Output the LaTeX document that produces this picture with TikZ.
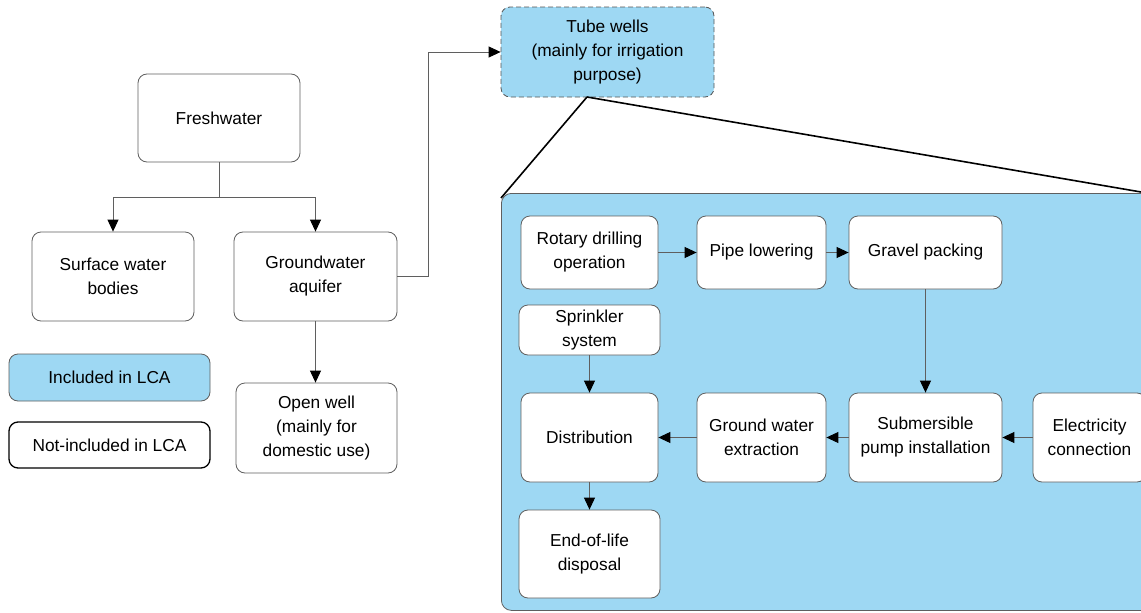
\documentclass[tikz,border=0pt]{standalone}
\usepackage{fontspec}
\setmainfont{Liberation Sans}
\usetikzlibrary{arrows.meta}
\definecolor{lblue}{RGB}{158,216,243}
\definecolor{edgegray}{RGB}{95,95,95}
\begin{document}
\begin{tikzpicture}[x=1pt,y=-1pt,
  box/.style={draw=edgegray, line width=0.8pt, rounded corners=9pt, fill=white,
    align=center, inner sep=0pt, font=\fontsize{17.3}{24}\selectfont},
  bluebox/.style={box, fill=lblue},
  conn/.style={draw=edgegray, line width=0.9pt, -{Triangle[color=black,length=12pt,width=11pt]}},
  plain/.style={draw=edgegray, line width=0.9pt},
  zoomline/.style={draw=black, line width=1.6pt}]
\clip (0,0) rectangle (1141,613);
\fill[white] (0,0) rectangle (1141,613);

% left part
\node[box, minimum width=162, minimum height=88] (fresh) at (219,118) {Freshwater};
\node[box, minimum width=162, minimum height=89] (surf) at (113,276.5) {Surface water\\bodies};
\node[box, minimum width=163, minimum height=89] (gw) at (315.5,276.5) {Groundwater\\aquifer};
\node[box, minimum width=161, minimum height=90] (open) at (316.5,428) {Open well\\(mainly for\\domestic use)};
\node[bluebox, minimum width=201, minimum height=47] (inc) at (109.5,377.5) {Included in LCA};
\node[box, draw=black, line width=1.3pt, minimum width=201, minimum height=46] (notinc) at (109.5,445) {Not-included in LCA};

\node[bluebox, draw=edgegray!90!black, dashed, dash pattern=on 5pt off 3pt, minimum width=213, minimum height=90] (tube) at (607.5,52) {Tube wells\\(mainly for irrigation\\purpose)};

\draw[plain] (fresh.south) -- ++(0,35) coordinate (split);
\draw[conn] (split) -| (surf.north);
\draw[conn] (split) -| (gw.north);
\draw[conn] (gw.east) -- ++(31,0) |- (tube.west);
\draw[conn] (gw.south) -- (gw.south |- open.north);

% zoom panel
\node[draw=edgegray, line width=0.8pt, fill=lblue, rounded corners=10pt, inner sep=0pt,
  minimum width=680, minimum height=417, anchor=north west] (panel) at (501,193) {};
\coordinate (tw) at (587,97);
\coordinate (pl) at (501,198);
\coordinate (pr) at (1141,192);
\draw[zoomline] (tw) -- (pl);
\draw[zoomline] (tw) -- (pr);

% inner nodes
\node[box, minimum width=137, minimum height=73] (rot) at (589.5,252.5) {Rotary drilling\\operation};
\node[box, minimum width=129, minimum height=73] (pipe) at (761.5,252.5) {Pipe lowering};
\node[box, minimum width=153, minimum height=73] (grav) at (925.5,252.5) {Gravel packing};
\node[box, minimum width=141, minimum height=50] (spr) at (589.5,330) {Sprinkler\\system};
\node[box, minimum width=137, minimum height=89] (dist) at (589.5,437.5) {Distribution};
\node[box, minimum width=129, minimum height=89] (gwe) at (761.5,437.5) {Ground water\\extraction};
\node[box, minimum width=153, minimum height=89] (sub) at (925.5,437.5) {Submersible\\pump installation};
\node[box, minimum width=113, minimum height=89] (elec) at (1089.5,437.5) {Electricity\\connection};
\node[box, minimum width=141, minimum height=88] (eol) at (589.5,554) {End-of-life\\disposal};

\draw[conn] (rot) -- (pipe);
\draw[conn] (pipe) -- (grav);
\draw[conn] (grav) -- (sub);
\draw[conn] (elec) -- (sub);
\draw[conn] (sub) -- (gwe);
\draw[conn] (gwe) -- (dist);
\draw[conn] (spr) -- (dist);
\draw[conn] (dist) -- (eol);
\end{tikzpicture}
\end{document}
